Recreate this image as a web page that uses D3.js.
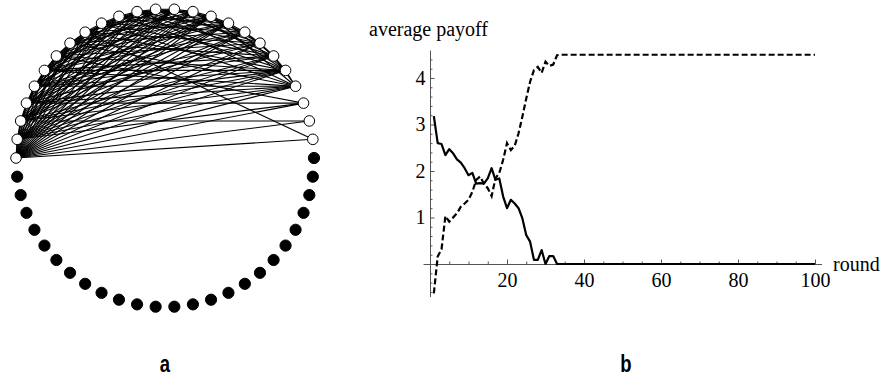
<!DOCTYPE html>
<html>
<head>
<meta charset="utf-8">
<script src="https://cdn.jsdelivr.net/npm/d3@7"></script>
<style>
  html, body { margin: 0; padding: 0; background: #fff; }
  svg { display: block; }
  .serif { font-family: "Liberation Serif", "Times New Roman", "DejaVu Serif", serif; font-size: 20px; }
</style>
</head>
<body>
<svg id="chart" width="881" height="377"></svg>
<script>
// ---- panel a: ring of 50 players, open = cooperators, filled = defectors
const nodeCount = 50;
const openNodes = [1, 2, 3, 4, 5, 6, 7, 8, 9, 10, 11, 12, 13, 14, 15, 16, 17, 18, 19, 20, 21, 22, 23, 24, 25];

// links between cooperators (node ids on the ring)
const links = [
  [25, 1], [25, 2], [25, 3], [25, 4], [25, 5], [25, 6], [25, 7], [25, 8], [25, 9], [25, 10], [25, 11], [25, 12],
  [25, 13], [25, 14], [25, 15], [25, 16], [25, 17], [25, 18], [25, 19], [25, 20], [25, 21], [25, 22], [25, 23], [25, 24],
  [24, 3], [24, 4], [24, 5], [24, 6], [24, 7], [24, 8], [24, 9], [24, 10], [24, 11], [24, 12], [24, 14], [24, 16],
  [24, 18], [24, 20], [24, 22], [24, 23],
  [23, 2], [23, 4], [23, 5], [23, 6], [23, 8], [23, 9], [23, 10], [23, 11], [23, 12], [23, 13], [23, 15], [23, 17],
  [23, 19], [23, 21], [23, 22],
  [22, 3], [22, 4], [22, 5], [22, 7], [22, 9], [22, 10], [22, 11], [22, 12], [22, 14], [22, 16], [22, 18], [22, 20], [22, 21],
  [21, 4], [21, 5], [21, 6], [21, 7], [21, 8], [21, 10], [21, 12], [21, 13], [21, 15], [21, 17], [21, 19], [21, 20],
  [20, 4], [20, 5], [20, 6], [20, 8], [20, 9], [20, 11], [20, 13], [20, 14], [20, 16], [20, 18], [20, 19],
  [19, 3], [19, 5], [19, 7], [19, 9], [19, 10], [19, 12], [19, 14], [19, 17], [19, 18],
  [18, 4], [18, 6], [18, 8], [18, 10], [18, 11], [18, 13], [18, 15], [18, 17],
  [17, 1], [17, 5], [17, 7], [17, 9], [17, 12], [17, 14], [17, 16],
  [16, 4], [16, 6], [16, 8], [16, 10], [16, 13], [16, 15],
  [15, 5], [15, 7], [15, 9], [15, 12], [15, 14],
  [14, 4], [14, 6], [14, 8], [14, 11], [14, 13],
  [13, 5], [13, 7], [13, 10], [13, 12],
  [12, 6], [12, 9], [12, 11],
  [11, 5], [11, 8], [11, 10],
  [10, 4], [10, 7], [10, 9],
  [9, 5], [9, 8], [8, 6], [8, 7], [7, 5], [7, 6], [6, 4], [6, 5], [5, 4]
];

// ---- panel b: average payoff per round
const solidPayoff = [
  3.18, 2.6, 2.58, 2.34, 2.47, 2.38, 2.25, 2.18, 2.06, 1.91,
  1.96, 1.73, 1.74, 1.73, 1.84, 2.06, 1.81, 1.84, 1.45, 1.2,
  1.38, 1.3, 1.2, 0.98, 0.62, 0.48, 0.09, 0.09, 0.3, 0,
  0.17, 0.17, 0, 0, 0, 0, 0, 0, 0, 0,
  0, 0, 0, 0, 0, 0, 0, 0, 0, 0,
  0, 0, 0, 0, 0, 0, 0, 0, 0, 0,
  0, 0, 0, 0, 0, 0, 0, 0, 0, 0,
  0, 0, 0, 0, 0, 0, 0, 0, 0, 0,
  0, 0, 0, 0, 0, 0, 0, 0, 0, 0,
  0, 0, 0, 0, 0, 0, 0, 0, 0, 0
];
const dashedPayoff = [
  -0.63, 0.16, 0.32, 1.03, 0.91, 1.0, 1.09, 1.23, 1.3, 1.38,
  1.55, 1.81, 1.88, 1.73, 1.63, 1.46, 1.84, 1.96, 2.24, 2.6,
  2.45, 2.54, 2.81, 3.17, 3.56, 3.92, 4.17, 4.24, 4.11, 4.35,
  4.26, 4.29, 4.49, 4.5, 4.5, 4.5, 4.5, 4.5, 4.5, 4.5,
  4.5, 4.5, 4.5, 4.5, 4.5, 4.5, 4.5, 4.5, 4.5, 4.5,
  4.5, 4.5, 4.5, 4.5, 4.5, 4.5, 4.5, 4.5, 4.5, 4.5,
  4.5, 4.5, 4.5, 4.5, 4.5, 4.5, 4.5, 4.5, 4.5, 4.5,
  4.5, 4.5, 4.5, 4.5, 4.5, 4.5, 4.5, 4.5, 4.5, 4.5,
  4.5, 4.5, 4.5, 4.5, 4.5, 4.5, 4.5, 4.5, 4.5, 4.5,
  4.5, 4.5, 4.5, 4.5, 4.5, 4.5, 4.5, 4.5, 4.5, 4.5
];
const xTicks = [20, 40, 60, 80, 100];
const yTicks = [1, 2, 3, 4];

const svg = d3.select('#chart');

// ring layout
const cx = 165, cy = 158, radius = 149;
const angle = d3.scaleLinear().domain([0, nodeCount]).range([0, 2 * Math.PI]);
const nodes = d3.range(nodeCount).map(i => ({
  id: i,
  open: openNodes.includes(i),
  x: cx + radius * Math.cos(angle(i)),
  y: cy - radius * Math.sin(angle(i))
}));

const ring = svg.append('g');
ring.selectAll('.link')
  .data(links)
  .enter().append('line')
  .attr('class', 'link')
  .attr('x1', d => nodes[d[0]].x)
  .attr('y1', d => nodes[d[0]].y)
  .attr('x2', d => nodes[d[1]].x)
  .attr('y2', d => nodes[d[1]].y)
  .attr('stroke', '#000')
  .attr('stroke-width', 1.1);

ring.selectAll('.node')
  .data(nodes)
  .enter().append('circle')
  .attr('class', 'node')
  .attr('cx', d => d.x)
  .attr('cy', d => d.y)
  .attr('r', d => d.open ? 5.3 : 5.6)
  .attr('fill', d => d.open ? '#fff' : '#000')
  .attr('stroke', '#000')
  .attr('stroke-width', 1);

// line chart
const x = d3.scaleLinear().domain([0, 100]).range([430, 815]);
const y = d3.scaleLinear().domain([-0.7, 4.6]).range([296.55, 50.1]);
const axisColor = '#555';

const xAxisScale = x.copy().domain([-1.8, 101.7]).range([x(-1.8), x(101.7)]);
const xMinor = d3.range(5, 100, 5).filter(v => !xTicks.includes(v));
const yMinor = d3.range(-3, 23).map(v => Math.round(v * 2) / 10).filter(v => v !== 0 && !yTicks.includes(v));

const gx = svg.append('g').attr('class', 'serif').attr('transform', `translate(0,${y(0)})`);
gx.call(d3.axisBottom(xAxisScale).tickValues(xTicks).tickFormat(d3.format('d'))
  .tickSize(-4.5).tickSizeOuter(0).tickPadding(8.5));
gx.append('g').call(d3.axisBottom(x).tickValues(xMinor).tickSize(-2.5).tickFormat(''))
  .select('.domain').remove();

const gy = svg.append('g').attr('class', 'serif').attr('transform', `translate(${x(0)},0)`);
gy.call(d3.axisLeft(y).tickValues(yTicks).tickFormat(d3.format('d'))
  .tickSize(-4.5).tickSizeOuter(0).tickPadding(4.5));
gy.append('g').call(d3.axisLeft(y).tickValues(yMinor).tickSize(-2.5).tickFormat(''))
  .select('.domain').remove();

svg.selectAll('.domain, .tick line').attr('stroke', axisColor).attr('stroke-width', 1);
svg.selectAll('.tick text').attr('fill', '#000').style('font-size', '20px');

const line = d3.line()
  .x((d, i) => x(i + 1))
  .y(d => y(d));

svg.append('path')
  .datum(solidPayoff)
  .attr('d', line)
  .attr('fill', 'none')
  .attr('stroke', '#000')
  .attr('stroke-width', 2.2)
  .attr('stroke-linejoin', 'round');

svg.append('path')
  .datum(dashedPayoff)
  .attr('d', line)
  .attr('fill', 'none')
  .attr('stroke', '#000')
  .attr('stroke-width', 2.2)
  .attr('stroke-dasharray', '6,3');

svg.append('text')
  .attr('class', 'serif')
  .attr('x', 369)
  .attr('y', 36)
  .text('average payoff');

svg.append('text')
  .attr('class', 'serif')
  .attr('x', 833)
  .attr('y', 270.5)
  .text('round');

// panel letters
svg.selectAll('.panel')
  .data([{ label: 'a', x: 165 }, { label: 'b', x: 626 }])
  .enter().append('text')
  .attr('class', 'panel')
  .attr('transform', d => `translate(${d.x},372) scale(0.88,1.12)`)
  .attr('text-anchor', 'middle')
  .style('font-family', '"Liberation Sans", Arial, sans-serif')
  .style('font-weight', 'bold')
  .style('font-size', '21px')
  .text(d => d.label);
</script>
</body>
</html>
